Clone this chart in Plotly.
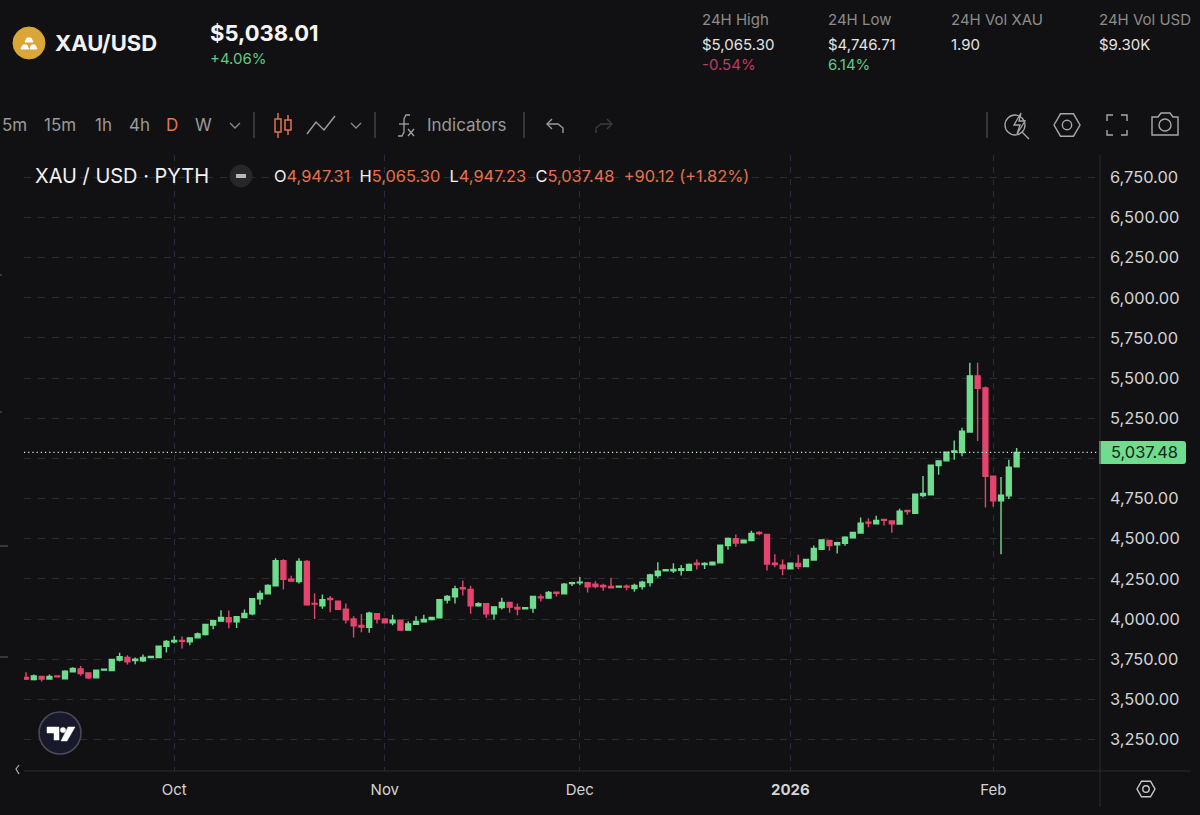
import pandas as pd
import plotly.graph_objects as go

# Daily candles, Saturdays have no bar on this feed
days = pd.date_range("2025-09-09", "2026-02-04")
dates = [d.strftime("%Y-%m-%d") for d in days if d.weekday() != 5]

opens = [3636, 3624, 3642, 3626, 3645, 3628, 3671, 3690, 3665, 3634, 3682, 3680, 3744, 3761, 3742, 3740,
         3761, 3761, 3831, 3858, 3867, 3858, 3883, 3904, 3962, 3987, 4008, 3983, 4010, 4033, 4126, 4157,
         4207, 4363, 4248, 4234, 4358, 4097, 4082, 4128, 4111, 4062, 4000, 3960, 3948, 4033, 4001, 3977,
         3993, 3931, 3968, 3983, 3997, 4008, 4118, 4138, 4195, 4184, 4082, 4095, 4033, 4072, 4103, 4072,
         4064, 4068, 4138, 4130, 4167, 4157, 4221, 4226, 4226, 4217, 4209, 4203, 4199, 4205, 4190, 4203,
         4228, 4271, 4300, 4300, 4304, 4304, 4348, 4340, 4338, 4350, 4458, 4500, 4475, 4489, 4539, 4527,
         4348, 4336, 4313, 4346, 4327, 4367, 4435, 4489, 4462, 4471, 4506, 4535, 4603, 4593, 4620, 4610,
         4591, 4676, 4659, 4769, 4774, 4956, 4985, 5039, 5037, 5164, 5514, 5438, 4890, 4736, 4767, 4947.31]
highs = [3669, 3655, 3644, 3655, 3646, 3682, 3700, 3707, 3669, 3684, 3690, 3749, 3790, 3775, 3761, 3779,
         3771, 3833, 3869, 3894, 3891, 3887, 3916, 3970, 3995, 4055, 4053, 4018, 4060, 4128, 4178, 4217,
         4379, 4373, 4269, 4379, 4367, 4159, 4153, 4143, 4114, 4097, 4018, 4031, 4045, 4035, 4003, 4026,
         3997, 3987, 4018, 4026, 4012, 4122, 4149, 4207, 4240, 4207, 4105, 4099, 4078, 4132, 4107, 4097,
         4074, 4143, 4155, 4174, 4170, 4224, 4232, 4261, 4228, 4236, 4219, 4257, 4207, 4215, 4219, 4238,
         4282, 4354, 4309, 4348, 4336, 4346, 4371, 4354, 4356, 4462, 4508, 4527, 4495, 4549, 4547, 4529,
         4404, 4371, 4350, 4400, 4373, 4458, 4497, 4491, 4481, 4516, 4541, 4632, 4628, 4643, 4622, 4614,
         4686, 4678, 4780, 4890, 4960, 4987, 5041, 5112, 5191, 5595, 5595, 5448, 4892, 4884, 4991, 5065.30]
lows = [3620, 3617, 3611, 3624, 3638, 3626, 3669, 3647, 3626, 3630, 3680, 3678, 3736, 3717, 3719, 3732,
        3759, 3759, 3792, 3848, 3817, 3837, 3881, 3898, 3937, 3983, 3943, 3945, 4006, 4024, 4089, 4155,
        4205, 4184, 4234, 4221, 4087, 4001, 4064, 4043, 4058, 3972, 3885, 3918, 3914, 3972, 3974, 3962,
        3927, 3929, 3964, 3981, 3995, 4006, 4097, 4097, 4147, 4033, 4076, 4008, 3995, 4060, 4039, 4024,
        4062, 4039, 4109, 4128, 4141, 4155, 4205, 4211, 4165, 4192, 4176, 4190, 4195, 4180, 4170, 4184,
        4203, 4257, 4296, 4286, 4271, 4302, 4309, 4311, 4336, 4349, 4431, 4450, 4473, 4487, 4522, 4302,
        4323, 4273, 4311, 4311, 4325, 4365, 4431, 4425, 4408, 4456, 4504, 4533, 4572, 4591, 4583, 4537,
        4589, 4649, 4657, 4759, 4771, 4898, 4983, 4991, 5014, 5160, 5108, 4695, 4699, 4404, 4747, 4947.23]
closes = [3626, 3645, 3626, 3642, 3640, 3676, 3692, 3661, 3634, 3682, 3688, 3748, 3765, 3734, 3750, 3761,
          3767, 3831, 3860, 3867, 3862, 3883, 3908, 3966, 3989, 4010, 3983, 4014, 4035, 4126, 4159, 4209,
          4363, 4248, 4236, 4358, 4089, 4093, 4120, 4122, 4060, 3995, 3958, 3950, 4037, 4000, 3977, 3993,
          3931, 3970, 3985, 3997, 4010, 4120, 4141, 4188, 4188, 4082, 4095, 4033, 4076, 4103, 4074, 4062,
          4070, 4141, 4132, 4165, 4161, 4217, 4226, 4230, 4201, 4203, 4201, 4195, 4205, 4199, 4209, 4230,
          4275, 4298, 4307, 4309, 4313, 4340, 4340, 4346, 4354, 4460, 4502, 4473, 4491, 4533, 4533, 4342,
          4340, 4315, 4348, 4329, 4371, 4439, 4493, 4458, 4475, 4510, 4539, 4597, 4597, 4614, 4614, 4593,
          4672, 4670, 4778, 4782, 4958, 4985, 5039, 5047, 5170, 5514, 5436, 4888, 4736, 4771, 4946, 5037.48]

month_ticks = ["2025-10-01", "2025-11-02", "2025-12-01", "2026-01-01", "2026-02-01"]
month_labels = ["Oct", "Nov", "Dec", "<b>2026</b>", "Feb"]
price_ticks = [3250, 3500, 3750, 4000, 4250, 4500, 4750, 5000, 5250, 5500, 5750, 6000, 6250, 6500, 6750]
# the 5,000.00 label sits under the last price tag in the original
price_labels = ["" if p == 5000 else f"{p:,.2f}" for p in price_ticks]
last_price = 5037.48

BG = "#111113"
GREEN = "#6FDC8E"
RED = "#E5446F"
ORANGE = "#E5724A"
GRID = "#2A2B33"
FONT = "Inter"

W, H = 1200, 815


def fx(x):
    return x / W


def fy(y):
    return 1 - y / H


def label(x, y, text, size=15, color="#E4E4E4", anchor="left"):
    # annotations carry about 2px of padding
    x = x - 2 if anchor == "left" else x
    return dict(text=text, x=fx(x), y=fy(y), xref="paper", yref="paper", xanchor=anchor, yanchor="middle",
                showarrow=False, font=dict(family=FONT, size=size, color=color))


def line(pts, color="#9A9A9A", width=1.5, closed=False, fill=None):
    p = "M" + " L".join(f"{fx(a):.5f},{fy(b):.5f}" for a, b in pts) + (" Z" if closed else "")
    return dict(type="path", path=p, xref="paper", yref="paper", line=dict(color=color, width=width),
                fillcolor=fill, layer="above")


def ring(cx, cy, r, color="#9A9A9A", width=1.5, fill=None):
    return dict(type="circle", xref="paper", yref="paper", x0=fx(cx - r), x1=fx(cx + r),
                y0=fy(cy + r), y1=fy(cy - r), line=dict(color=color, width=width), fillcolor=fill, layer="above")


def hexagon(cx, cy, r, color="#A8A8A8"):
    pts = [(cx - r, cy), (cx - r / 2, cy - r * 0.86), (cx + r / 2, cy - r * 0.86),
           (cx + r, cy), (cx + r / 2, cy + r * 0.86), (cx - r / 2, cy + r * 0.86)]
    return [line(pts, color, 1.4, True), ring(cx, cy, r * 0.36, color, 1.4)]


def tag(x0, y0, x1, y1, color):
    # price tag, square on the left and rounded on the right
    r = 3
    p = (f"M{fx(x0)},{fy(y0)} L{fx(x1 - r)},{fy(y0)} Q{fx(x1)},{fy(y0)} {fx(x1)},{fy(y0 + r)} "
         f"L{fx(x1)},{fy(y1 - r)} Q{fx(x1)},{fy(y1)} {fx(x1 - r)},{fy(y1)} L{fx(x0)},{fy(y1)} Z")
    return dict(type="path", path=p, xref="paper", yref="paper", line=dict(width=0), fillcolor=color, layer="above")


fig = go.Figure(go.Candlestick(
    x=dates, open=opens, high=highs, low=lows, close=closes,
    increasing=dict(line=dict(color=GREEN, width=1.4), fillcolor=GREEN),
    decreasing=dict(line=dict(color=RED, width=1.4), fillcolor=RED),
    whiskerwidth=0, showlegend=False,
))

# Header, toolbar and legend text
notes = [
    label(55, 43, "<b>XAU/USD</b>", 22, "#F2F2F2"),
    label(210, 33, "<b>$5,038.01</b>", 22, "#F5F5F5"),
    label(210, 58, "+4.06%", 15, "#62C884"),
    label(702, 20, "24H High", 15, "#8C8C8C"),
    label(702, 44, "$5,065.30", 15, "#E4E4E4"),
    label(702, 65, "-0.54%", 15, "#BE3C66"),
    label(828, 20, "24H Low", 15, "#8C8C8C"),
    label(828, 44, "$4,746.71", 15, "#E4E4E4"),
    label(828, 65, "6.14%", 15, "#62C884"),
    label(951, 20, "24H Vol XAU", 15, "#8C8C8C"),
    label(951, 44, "1.90", 15, "#E4E4E4"),
    label(1099, 20, "24H Vol USD", 15, "#8C8C8C"),
    label(1099, 44, "$9.30K", 15, "#E4E4E4"),
    label(2, 125, "5m", 17, "#9A9A9A"),
    label(44, 125, "15m", 17, "#9A9A9A"),
    label(95, 125, "1h", 17, "#9A9A9A"),
    label(129, 125, "4h", 17, "#9A9A9A"),
    label(166, 125, "D", 17, ORANGE),
    label(195, 125, "W", 17, "#9A9A9A"),
    label(427, 125, "Indicators", 17, "#9A9A9A"),
    label(35, 176, "XAU / USD · PYTH", 20, "#F2F2F2"),
    label(274, 176,
          f'O<span style="color:{ORANGE}">4,947.31</span>  H<span style="color:{ORANGE}">5,065.30</span>'
          f'  L<span style="color:{ORANGE}">4,947.23</span>  C<span style="color:{ORANGE}">5,037.48</span>'
          f'  <span style="color:{ORANGE}">+90.12 (+1.82%)</span>', 16.4, "#F2F2F2"),
    label(1144, 452, "5,037.48", 16.4, "#10261A", "center"),
]

# Toolbar icons and other page furniture
shapes = [
    ring(29, 43, 16, "#D9A637", 1, "#D9A637"),
    line([(21, 49), (23, 45), (27, 45), (28.5, 49)], "#FFFFFF", 1, True, "#FFFFFF"),
    line([(30, 49), (31.5, 45), (35, 45), (37, 49)], "#FFFFFF", 1, True, "#FFFFFF"),
    line([(25, 42), (27, 38), (31, 38), (33, 42)], "#FFFFFF", 1, True, "#FFFFFF"),
    line([(230, 123), (235, 128), (240, 123)], "#8A8A8A", 1.3),
    line([(254, 112), (254, 138)], "#4A4A4A", 1.3),
    line([(278, 113), (278, 119)], ORANGE, 1.5),
    line([(275, 119), (281, 119), (281, 132), (275, 132)], ORANGE, 1.5, True),
    line([(278, 132), (278, 138)], ORANGE, 1.5),
    line([(288, 115), (288, 120)], ORANGE, 1.5),
    line([(285, 120), (291, 120), (291, 130), (285, 130)], ORANGE, 1.5, True),
    line([(288, 130), (288, 135)], ORANGE, 1.5),
    line([(307, 134), (316, 122), (324, 130), (335, 116)], "#A0A0A0", 1.4),
    line([(351, 123), (356, 128), (361, 123)], "#8A8A8A", 1.3),
    line([(375, 112), (375, 138)], "#4A4A4A", 1.3),
    line([(410, 115), (406, 115), (404, 119), (404, 132), (402, 136), (398, 136)], "#A0A0A0", 1.3),
    line([(399, 124), (409, 124)], "#A0A0A0", 1.3),
    line([(408, 129), (414, 136)], "#A0A0A0", 1.3),
    line([(414, 129), (408, 136)], "#A0A0A0", 1.3),
    line([(524, 112), (524, 138)], "#4A4A4A", 1.3),
    line([(552, 119), (547, 124), (552, 129)], "#9A9A9A", 1.4),
    line([(547, 124), (558, 124), (563, 128), (563, 133)], "#9A9A9A", 1.4),
    line([(607, 119), (612, 124), (607, 129)], "#3C3C3C", 1.4),
    line([(612, 124), (601, 124), (596, 128), (596, 133)], "#3C3C3C", 1.4),
    line([(987, 112), (987, 138)], "#4A4A4A", 1.3),
    ring(1015, 125, 10, "#A8A8A8", 1.3),
    line([(1022, 132), (1029, 139)], "#A8A8A8", 1.3),
    line([(1021, 113), (1014, 125), (1020, 125), (1017, 134), (1025, 121), (1019, 121)], "#A8A8A8", 1.3, True, BG),
    *hexagon(1067, 125, 13),
    line([(1107, 121), (1107, 115), (1113, 115)], "#A8A8A8", 1.4),
    line([(1121, 115), (1127, 115), (1127, 121)], "#A8A8A8", 1.4),
    line([(1127, 130), (1127, 135), (1121, 135)], "#A8A8A8", 1.4),
    line([(1113, 135), (1107, 135), (1107, 130)], "#A8A8A8", 1.4),
    line([(1152, 117), (1158, 117), (1161, 113), (1170, 113), (1173, 117), (1178, 117),
          (1178, 135), (1152, 135)], "#A8A8A8", 1.4, True),
    ring(1165, 125, 6, "#A8A8A8", 1.4),
    ring(241, 176, 11, "#26262B", 1, "#26262B"),
    line([(236, 176), (246, 176)], "#B8B8B8", 4),
    dict(type="line", xref="paper", yref="y", x0=fx(24), x1=fx(1100), y0=last_price, y1=last_price,
         line=dict(color="#C4F0D0", width=1.2, dash="1.2px,3px"), layer="above"),
    tag(1099, 441, 1186, 464, GREEN),
    line([(24, 771), (1191, 771)], "#2C2D33", 1),
    line([(1100, 155), (1100, 807)], "#2C2D33", 1),
    *hexagon(1146, 789, 9, "#C8C8C8"),
    line([(19, 765), (16, 769), (19, 774)], "#B0B0B0", 1.2),
    line([(0, 546), (8, 546)], "#555555", 1.2),
    line([(0, 657), (8, 657)], "#555555", 1.2),
    line([(0, 275), (2, 275)], "#555555", 1.2),
    line([(0, 412), (2, 412)], "#555555", 1.2),
    ring(60, 733, 21, "#4A4B55", 1.6, "#181A2B"),
    line([(47, 727), (59, 727), (59, 740), (54, 740), (54, 733), (47, 733)], "#FFFFFF", 0.5, True, "#FFFFFF"),
    ring(63, 730, 2.6, "#FFFFFF", 0.5, "#FFFFFF"),
    line([(68, 727), (75, 727), (67, 741), (61, 741)], "#FFFFFF", 0.5, True, "#FFFFFF"),
]

fig.update_layout(
    width=W, height=H,
    margin=dict(l=0, r=0, t=0, b=0),
    paper_bgcolor=BG, plot_bgcolor=BG,
    font=dict(family=FONT, color="#D4D4D4", size=15),
    boxgap=0.1,
    annotations=notes, shapes=shapes,
    xaxis=dict(
        type="category", domain=[fx(24), fx(1100)],
        categoryorder="array", categoryarray=dates,
        range=[-0.256, 137.69], rangeslider=dict(visible=False),
        tickmode="array", tickvals=month_ticks, ticktext=month_labels,
        showgrid=True, gridcolor="#2A2A3A", griddash="6px,6px", gridwidth=1,
        showline=False, zeroline=False, ticks="", ticklabelstandoff=8,
        tickfont=dict(family=FONT, size=15, color="#D4D4D4"),
    ),
    yaxis=dict(
        side="right", domain=[fy(771), fy(155)],
        range=[3054, 6889],
        tickmode="array", tickvals=price_ticks, ticktext=price_labels,
        showgrid=True, gridcolor=GRID, griddash="7px,7px", gridwidth=1,
        showline=False, zeroline=False, ticks="", ticklabelstandoff=9,
        tickfont=dict(family=FONT, size=16.4, color="#D4D4D4"),
    ),
)

fig.write_html("out.html", config=dict(displayModeBar=False),
               post_script="document.body.style.margin='0';document.body.style.overflow='hidden';")
